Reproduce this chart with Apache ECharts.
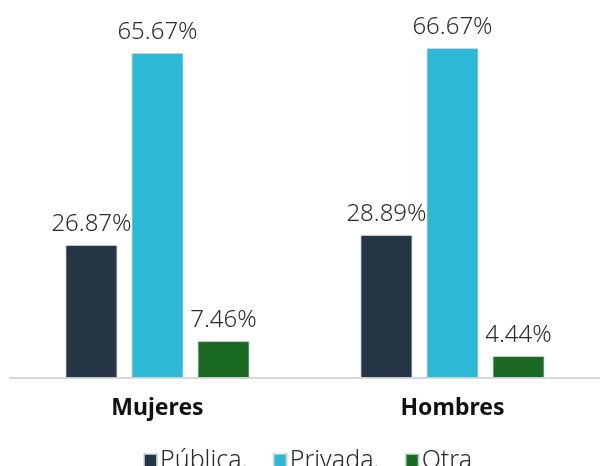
<!DOCTYPE html>
<html>
<head>
<meta charset="utf-8">
<style>
  html, body { margin: 0; padding: 0; background: #fff; }
  #chart { width: 600px; height: 466px; }
</style>
<script src="https://cdn.jsdelivr.net/npm/echarts@6/dist/echarts.min.js"></script>
</head>
<body>
<div id="chart"></div>
<script>
// categorías y valores (%)
const categorias = ['Mujeres', 'Hombres'];
const publica = [26.87, 28.89];
const privada = [65.67, 66.67];
const otra = [7.46, 4.44];

const chart = echarts.init(document.getElementById('chart'));

const etiqueta = {
  show: true,
  position: 'top',
  distance: 9,
  fontFamily: 'Noto Sans',
  fontWeight: 300,
  fontSize: 24,
  color: '#2b2b2b',
  formatter: p => p.value.toFixed(2) + '%'
};

function serie(nombre, datos, color) {
  return {
    name: nombre,
    type: 'bar',
    barWidth: 52,
    barGap: '27%',
    data: datos,
    itemStyle: { color: color, borderColor: 'rgba(210,215,220,0.8)', borderWidth: 1 },
    label: etiqueta
  };
}

chart.setOption({
  animation: false,
  grid: { left: 10, width: 594, top: 31.5, bottom: 88 },
  legend: {
    top: 443,
    left: 138,
    itemWidth: 13,
    itemHeight: 13,
    itemGap: 25,
    icon: 'rect',
    textStyle: { fontFamily: 'Noto Sans', fontWeight: 300, fontSize: 25, color: '#2b2b2b', padding: [0, 0, 0, -2] },
    data: ['Pública.', 'Privada.', 'Otra']
  },
  xAxis: {
    type: 'category',
    data: categorias,
    axisLine: { lineStyle: { color: '#d9d9d9', width: 2 } },
    axisTick: { show: false },
    axisLabel: { fontFamily: 'Noto Sans', fontWeight: 'bold', fontSize: 23, color: '#111', margin: 19 }
  },
  yAxis: {
    type: 'value',
    min: 0,
    max: 70,
    show: false,
    splitLine: { show: false }
  },
  series: [
    serie('Pública.', publica, '#253546'),
    serie('Privada.', privada, '#2db9d5'),
    serie('Otra', otra, '#1b6a24')
  ]
});

window.addEventListener('resize', () => chart.resize());
</script>
</body>
</html>
